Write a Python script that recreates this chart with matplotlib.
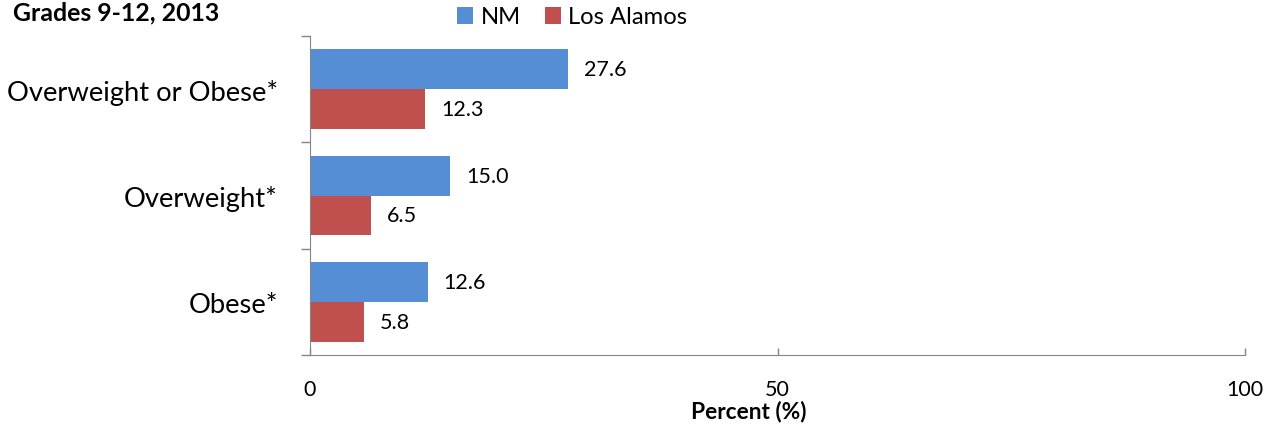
import matplotlib
matplotlib.use("Agg")
import matplotlib.pyplot as plt
import numpy as np

categories = ["Overweight or Obese*", "Overweight*", "Obese*"]
nm_values = [27.6, 15.0, 12.6]
la_values = [12.3, 6.5, 5.8]
series_names = ["NM", "Los Alamos"]
xticks = [0, 50, 100]

plt.rcParams['font.family'] = ['Lato', 'DejaVu Sans']

W, H = 1274, 427
fig = plt.figure(figsize=(W / 100, H / 100), dpi=100)
ax_l, ax_r, ax_t, ax_b = 310, 1245, 37, 356
ax = fig.add_axes([ax_l / W, 1 - ax_b / H, (ax_r - ax_l) / W, (ax_b - ax_t) / H])

blue = "#558ED5"
red = "#C0504D"
gray = "#868686"
n = len(categories)
ypos = np.arange(n)[::-1].astype(float)
h = 0.376
b1 = ax.barh(ypos + h / 2, nm_values, height=h, color=blue, label=series_names[0])
b2 = ax.barh(ypos - h / 2, la_values, height=h, color=red, label=series_names[1])

for bars, vals in ((b1, nm_values), (b2, la_values)):
    for rect, v in zip(bars, vals):
        ax.text(v + 1.7, rect.get_y() + rect.get_height() / 2, f"{v:.1f}",
                va="center", ha="left", fontsize=15.5)

ax.set_xlim(0, 100)
ax.set_ylim(-0.5, n - 0.5)
ax.set_xticks(xticks)
ax.set_xticklabels([str(t) for t in xticks], fontsize=15.5)
ax.tick_params(axis='x', direction='in', length=5, pad=17, color=gray, width=1)
ax.set_yticks(np.arange(n + 1) - 0.5, minor=True)
ax.set_yticks(ypos)
ax.set_yticklabels(categories, fontsize=20)
ax.tick_params(axis='y', which='major', length=0, pad=23)
ax.tick_params(axis='y', which='minor', length=6.5, direction='out', color=gray, width=1)
for s in ("top", "right"):
    ax.spines[s].set_visible(False)
for s in ("left", "bottom"):
    ax.spines[s].set_color(gray)
ax.set_xlabel("Percent (%)", fontsize=16.4, fontweight="bold")
ax.xaxis.set_label_coords((749 - ax_l) / (ax_r - ax_l), -(411 - ax_b) / (ax_b - ax_t))
ax.xaxis.label.set_va("center")

fig.text(13 / W, 1 - 13 / H, "Grades 9-12, 2013", fontsize=17.9, fontweight="bold",
         va="center", ha="left")
fig.legend(handles=[b1, b2], loc="center", bbox_to_anchor=(572 / W, 1 - 18 / H), ncol=2,
           frameon=False, fontsize=17.2, handlelength=0.7, handleheight=0.7,
           handletextpad=0.3, columnspacing=1.0, borderaxespad=0, borderpad=0)

# fit the category label size so the longest label spans the reference width
fig.canvas.draw()
r = fig.canvas.get_renderer()
labels = ax.get_yticklabels()
widths = [lab.get_window_extent(r).width for lab in labels]
target = 272.0
fs = labels[0].get_fontsize() * target / max(widths)
for lab in labels:
    lab.set_fontsize(fs)

fig.savefig("out.png", dpi=100)
